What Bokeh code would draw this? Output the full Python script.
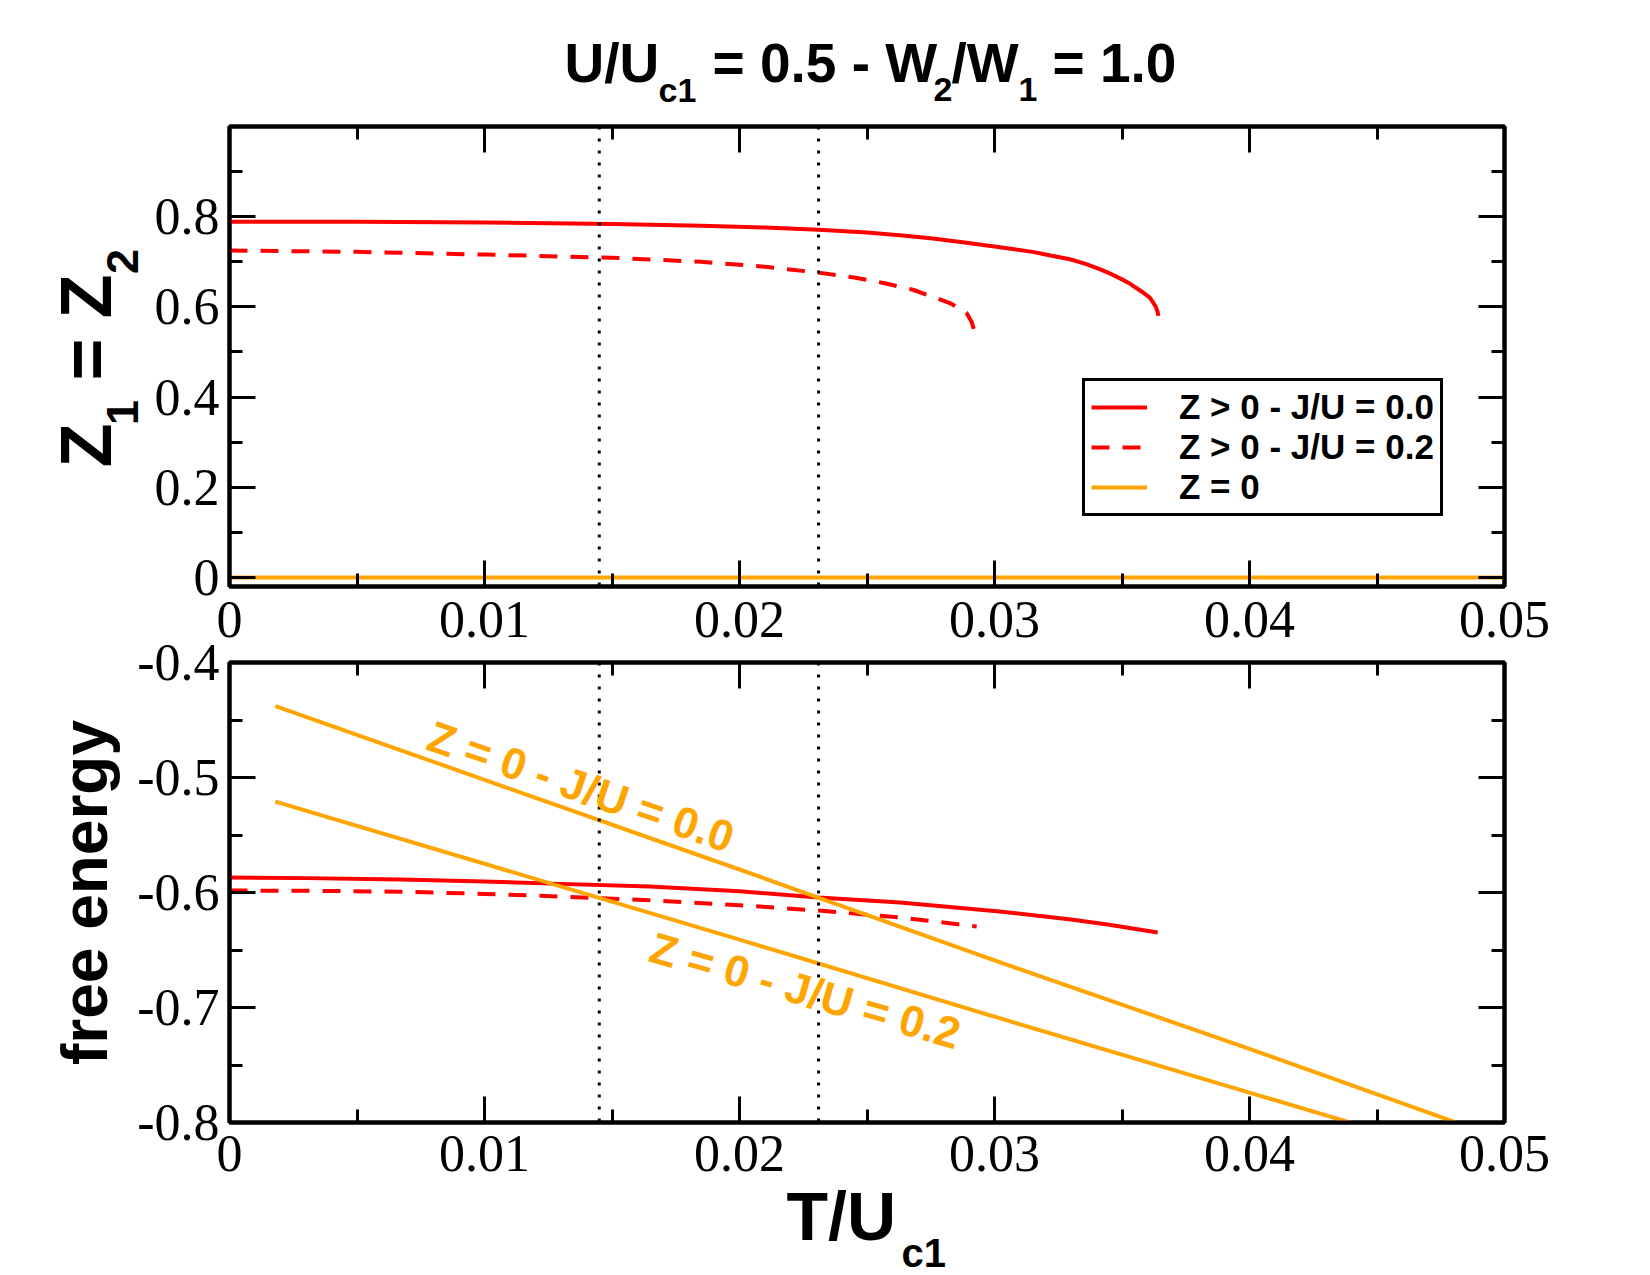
import math
from bokeh.plotting import figure
from bokeh.layouts import column, row
from bokeh.models import (LinearAxis, FixedTicker, Range1d, Label, Legend,
                          LegendItem, Span)
from bokeh.embed import file_html
from bokeh.resources import INLINE

# ---------------- data ----------------
# top panel: Z1 = Z2 versus T/Uc1
T_top_j0 = [0.0, 0.005, 0.01, 0.015, 0.0185, 0.021, 0.0231, 0.025, 0.0265,
            0.0275, 0.0289, 0.030, 0.0315, 0.0322, 0.0330, 0.0336, 0.0342,
            0.0346, 0.0350, 0.0353, 0.0355, 0.0358, 0.0361, 0.0363, 0.03638,
            0.03643]
Z_top_j0 = [0.789, 0.789, 0.787, 0.784, 0.780, 0.776, 0.771, 0.765, 0.758,
            0.752, 0.742, 0.734, 0.722, 0.714, 0.705, 0.695, 0.682,
            0.672, 0.661, 0.652, 0.644, 0.633, 0.620, 0.603, 0.592,
            0.580]
T_top_j2 = [0.0, 0.005, 0.01, 0.015, 0.0185, 0.021, 0.0231, 0.0245, 0.02565,
            0.0268, 0.0276, 0.0283, 0.0289, 0.0291, 0.02925]
Z_top_j2 = [0.725, 0.722, 0.716, 0.709, 0.700, 0.689, 0.676, 0.665, 0.653,
            0.638, 0.622, 0.607, 0.587, 0.567, 0.540]
T_top_z0 = [0.0, 0.05]
Z_top_z0 = [0.0, 0.0]

# bottom panel: free energy versus T/Uc1
T_f_j0 = [0.0, 0.003, 0.0067, 0.010, 0.013, 0.01647, 0.020, 0.0231, 0.0263,
          0.0302, 0.033, 0.0345, 0.0364]
F_f_j0 = [-0.587, -0.5875, -0.5887, -0.5905, -0.5925, -0.5948, -0.599,
          -0.6043, -0.6087, -0.6165, -0.6235, -0.628, -0.6348]
T_f_j2 = [0.0, 0.003, 0.0067, 0.010, 0.013, 0.01647, 0.020, 0.0231, 0.0263,
          0.0293]
F_f_j2 = [-0.5983, -0.5985, -0.5993, -0.6012, -0.6035, -0.6068, -0.611,
          -0.6157, -0.6217, -0.6296]
T_f0_j0 = [0.0018, 0.01, 0.02, 0.03, 0.04, 0.05]
F_f0_j0 = [-0.438, -0.502, -0.580, -0.659, -0.736, -0.815]
T_f0_j2 = [0.0018, 0.01, 0.02, 0.03, 0.04, 0.05]
F_f0_j2 = [-0.521, -0.575, -0.641, -0.708, -0.774, -0.840]

# vertical dotted markers
vlines = [0.0145, 0.0231]

# ticks
x_ticks = [0.0, 0.01, 0.02, 0.03, 0.04, 0.05]
x_tick_labels = ["0", "0.01", "0.02", "0.03", "0.04", "0.05"]
x_minor = [0.005, 0.015, 0.025, 0.035, 0.045]
top_y_ticks = [0.0, 0.2, 0.4, 0.6, 0.8]
top_y_labels = ["0", "0.2", "0.4", "0.6", "0.8"]
top_y_minor = [0.1, 0.3, 0.5, 0.7, 0.9]
bot_y_ticks = [-0.8, -0.7, -0.6, -0.5, -0.4]
bot_y_labels = ["-0.8", "-0.7", "-0.6", "-0.5", "-0.4"]
bot_y_minor = [-0.75, -0.65, -0.55, -0.45]

legend_labels = ["Z > 0 - J/U = 0.0", "Z > 0 - J/U = 0.2", "Z = 0"]
annot_labels = ["Z = 0 - J/U = 0.0", "Z = 0 - J/U = 0.2"]

RED = "#ff0000"
ORANGE = "#ffa500"
SANS = "Liberation Sans"
SERIF = "Liberation Serif"
MID = 0.3465   # distance from baseline to the middle of the text box, in em

# layout sizes (pixels)
W = 1650
YL1_W, YL2_W = 150, 128   # strips holding the rotated y labels
TITLE_H = 112
P1_TOP, P1_BOT = 14, 11
# the x tick labels printed under the top panel live in the canvas of the
# bottom panel (its upper axis, same x range), so no text straddles canvases
P2_TOP, P2_BOT = 662 - (TITLE_H + P1_TOP + 460 + P1_BOT), 62
FRAME_W, FRAME_H = 1275, 460
P1_H = P1_TOP + FRAME_H + P1_BOT
P2_H = P2_TOP + FRAME_H + P2_BOT
XL_H = 1275 - TITLE_H - P1_H - P2_H
# page y of each plot frame (top, bottom)
F1_TOP = TITLE_H + P1_TOP
F1_BOT = F1_TOP + FRAME_H
F2_TOP = TITLE_H + P1_H + P2_TOP
F2_BOT = F2_TOP + FRAME_H


def style_axis(ax, ticks, minor, labels=None, standoff=0):
    ax.ticker = FixedTicker(ticks=ticks, minor_ticks=minor)
    ax.axis_line_width = 4
    ax.axis_line_color = "black"
    ax.major_tick_in = 26
    ax.major_tick_out = 0
    ax.minor_tick_in = 13
    ax.minor_tick_out = 0
    ax.major_tick_line_width = 3
    ax.minor_tick_line_width = 3
    ax.major_tick_line_color = "black"
    ax.minor_tick_line_color = "black"
    ax.axis_label = None
    ax.major_label_standoff = standoff
    if labels is not None:
        ax.major_label_overrides = dict(zip(ticks, labels))
        ax.major_label_text_font = SERIF
        ax.major_label_text_font_size = "52px"
        ax.major_label_text_color = "black"
    else:
        ax.major_label_overrides = {t: "" for t in ticks}
        ax.major_label_text_font_size = "0px"


def make_fig(y_range, y_ticks, y_minor, y_labels, left, top, bottom,
             below_labels, above_labels):
    p = figure(frame_width=FRAME_W, frame_height=FRAME_H,
               x_range=Range1d(0, 0.05), y_range=y_range,
               output_backend="svg", toolbar_location=None,
               min_border_left=left, min_border_right=146,
               min_border_top=top, min_border_bottom=bottom)
    p.xgrid.visible = False
    p.ygrid.visible = False
    p.outline_line_color = "black"
    p.outline_line_width = 4
    p.background_fill_color = "white"
    p.border_fill_color = "white"
    style_axis(p.xaxis[0], x_ticks, x_minor,
               x_tick_labels if below_labels else None, 13)
    style_axis(p.yaxis[0], y_ticks, y_minor, y_labels, 10)
    ax_top = LinearAxis()
    style_axis(ax_top, x_ticks, x_minor,
               x_tick_labels if above_labels else None, 0)
    p.add_layout(ax_top, "above")
    ax_right = LinearAxis()
    style_axis(ax_right, y_ticks, y_minor)
    p.add_layout(ax_right, "right")
    for v in vlines:
        p.add_layout(Span(location=v, dimension="height", line_color="black",
                          line_width=3, line_dash="3 9"))
    return p


def text_fig(w, h, y_top, y_bot):
    # data coordinates == page pixel coordinates inside the frame
    f = figure(width=w, height=h, x_range=Range1d(0, w),
               y_range=Range1d(y_bot, y_top),
               x_axis_type=None, y_axis_type=None, output_backend="svg",
               toolbar_location=None, min_border=0)
    f.outline_line_color = None
    f.background_fill_color = "white"
    f.border_fill_color = "white"
    return f


def add_text(p, text, x, y, size, angle=0.0, align="left", color="black"):
    p.add_layout(Label(x=x, y=y, text=text,
                       text_font=SANS, text_font_style="bold",
                       text_font_size=f"{size}px", text_color=color,
                       text_align=align, text_baseline="middle",
                       angle=angle))


# ---------------- title strip (baseline positions in page pixels) ------------
tf = text_fig(W, TITLE_H, 0, TITLE_H)
title_parts = [("U/U", 564, 82, 55), ("c1", 658, 101, 34),
               ("= 0.5 - W", 712, 82, 55), ("2", 933, 101, 34),
               ("/W", 951, 82, 55), ("1", 1018, 101, 34),
               ("= 1.0", 1052, 82, 55)]
for t, X, Y, s in title_parts:
    add_text(tf, t, X, Y - MID * s, s)

# ---------------- top panel ----------------
p1 = make_fig(Range1d(-0.02, 1.0), top_y_ticks, top_y_minor, top_y_labels,
              229 - YL1_W, P1_TOP, P1_BOT, False, False)
r1 = p1.line(T_top_j0, Z_top_j0, line_color=RED, line_width=4)
r2 = p1.line(T_top_j2, Z_top_j2, line_color=RED, line_width=4,
             line_dash="18 13")
r3 = p1.line(T_top_z0, Z_top_z0, line_color=ORANGE, line_width=4)

legend = Legend(items=[LegendItem(label=legend_labels[0], renderers=[r1]),
                       LegendItem(label=legend_labels[1], renderers=[r2]),
                       LegendItem(label=legend_labels[2], renderers=[r3])],
                location=(853, 70))
legend.label_text_font = SANS
legend.label_text_font_style = "bold"
legend.label_text_font_size = "35px"
legend.label_text_color = "black"
legend.glyph_width = 56
legend.glyph_height = 38
legend.label_height = 38
legend.label_standoff = 32
legend.padding = 6
legend.spacing = 0
legend.margin = 0
legend.border_line_color = "black"
legend.border_line_alpha = 1.0
legend.border_line_width = 3
legend.background_fill_color = "white"
legend.background_fill_alpha = 1.0
p1.add_layout(legend)

# rotated y label of the top panel: (text, baseline x, centre along y, size)
yl1 = text_fig(YL1_W, P1_H, F1_TOP, F1_BOT)
ylab_parts = [("Z", 110, 445, 72), ("1", 138, 412, 45),
              ("= Z", 110, 327, 72), ("2", 138, 261, 45)]
for t, X, Yc, s in ylab_parts:
    add_text(yl1, t, X - MID * s, Yc, s, angle=math.pi / 2, align="center")

# ---------------- bottom panel ----------------
p2 = make_fig(Range1d(-0.8, -0.4), bot_y_ticks, bot_y_minor, bot_y_labels,
              229 - YL2_W, P2_TOP, P2_BOT, True, True)
p2.above[0].major_label_standoff = 26
p2.line(T_f_j0, F_f_j0, line_color=RED, line_width=4)
p2.line(T_f_j2, F_f_j2, line_color=RED, line_width=4, line_dash="18 13")
p2.line(T_f0_j0, F_f0_j0, line_color=ORANGE, line_width=4)
p2.line(T_f0_j2, F_f0_j2, line_color=ORANGE, line_width=4)

add_text(p2, annot_labels[0], 0.01378, -0.5078, 44,
         angle=-19 * math.pi / 180, color=ORANGE, align="center")
add_text(p2, annot_labels[1], 0.02258, -0.6851, 44,
         angle=-16 * math.pi / 180, color=ORANGE, align="center")

yl2 = text_fig(YL2_W, P2_H, F2_TOP, F2_BOT)
add_text(yl2, "free energy", 106.5 - MID * 64, (F2_TOP + F2_BOT) / 2, 64,
         angle=math.pi / 2, align="center")

# ---------------- x label strip ----------------
y0 = TITLE_H + P1_H + P2_H
xf = text_fig(W, XL_H, 0, XL_H)
add_text(xf, "T/U", 786, 1239 - MID * 68 - y0, 68)
add_text(xf, "c1", 901, 1266 - MID * 40 - y0, 40)

layout = column(tf, row(yl1, p1), row(yl2, p2), xf)
open("out.html", "w").write(file_html(layout, INLINE))
